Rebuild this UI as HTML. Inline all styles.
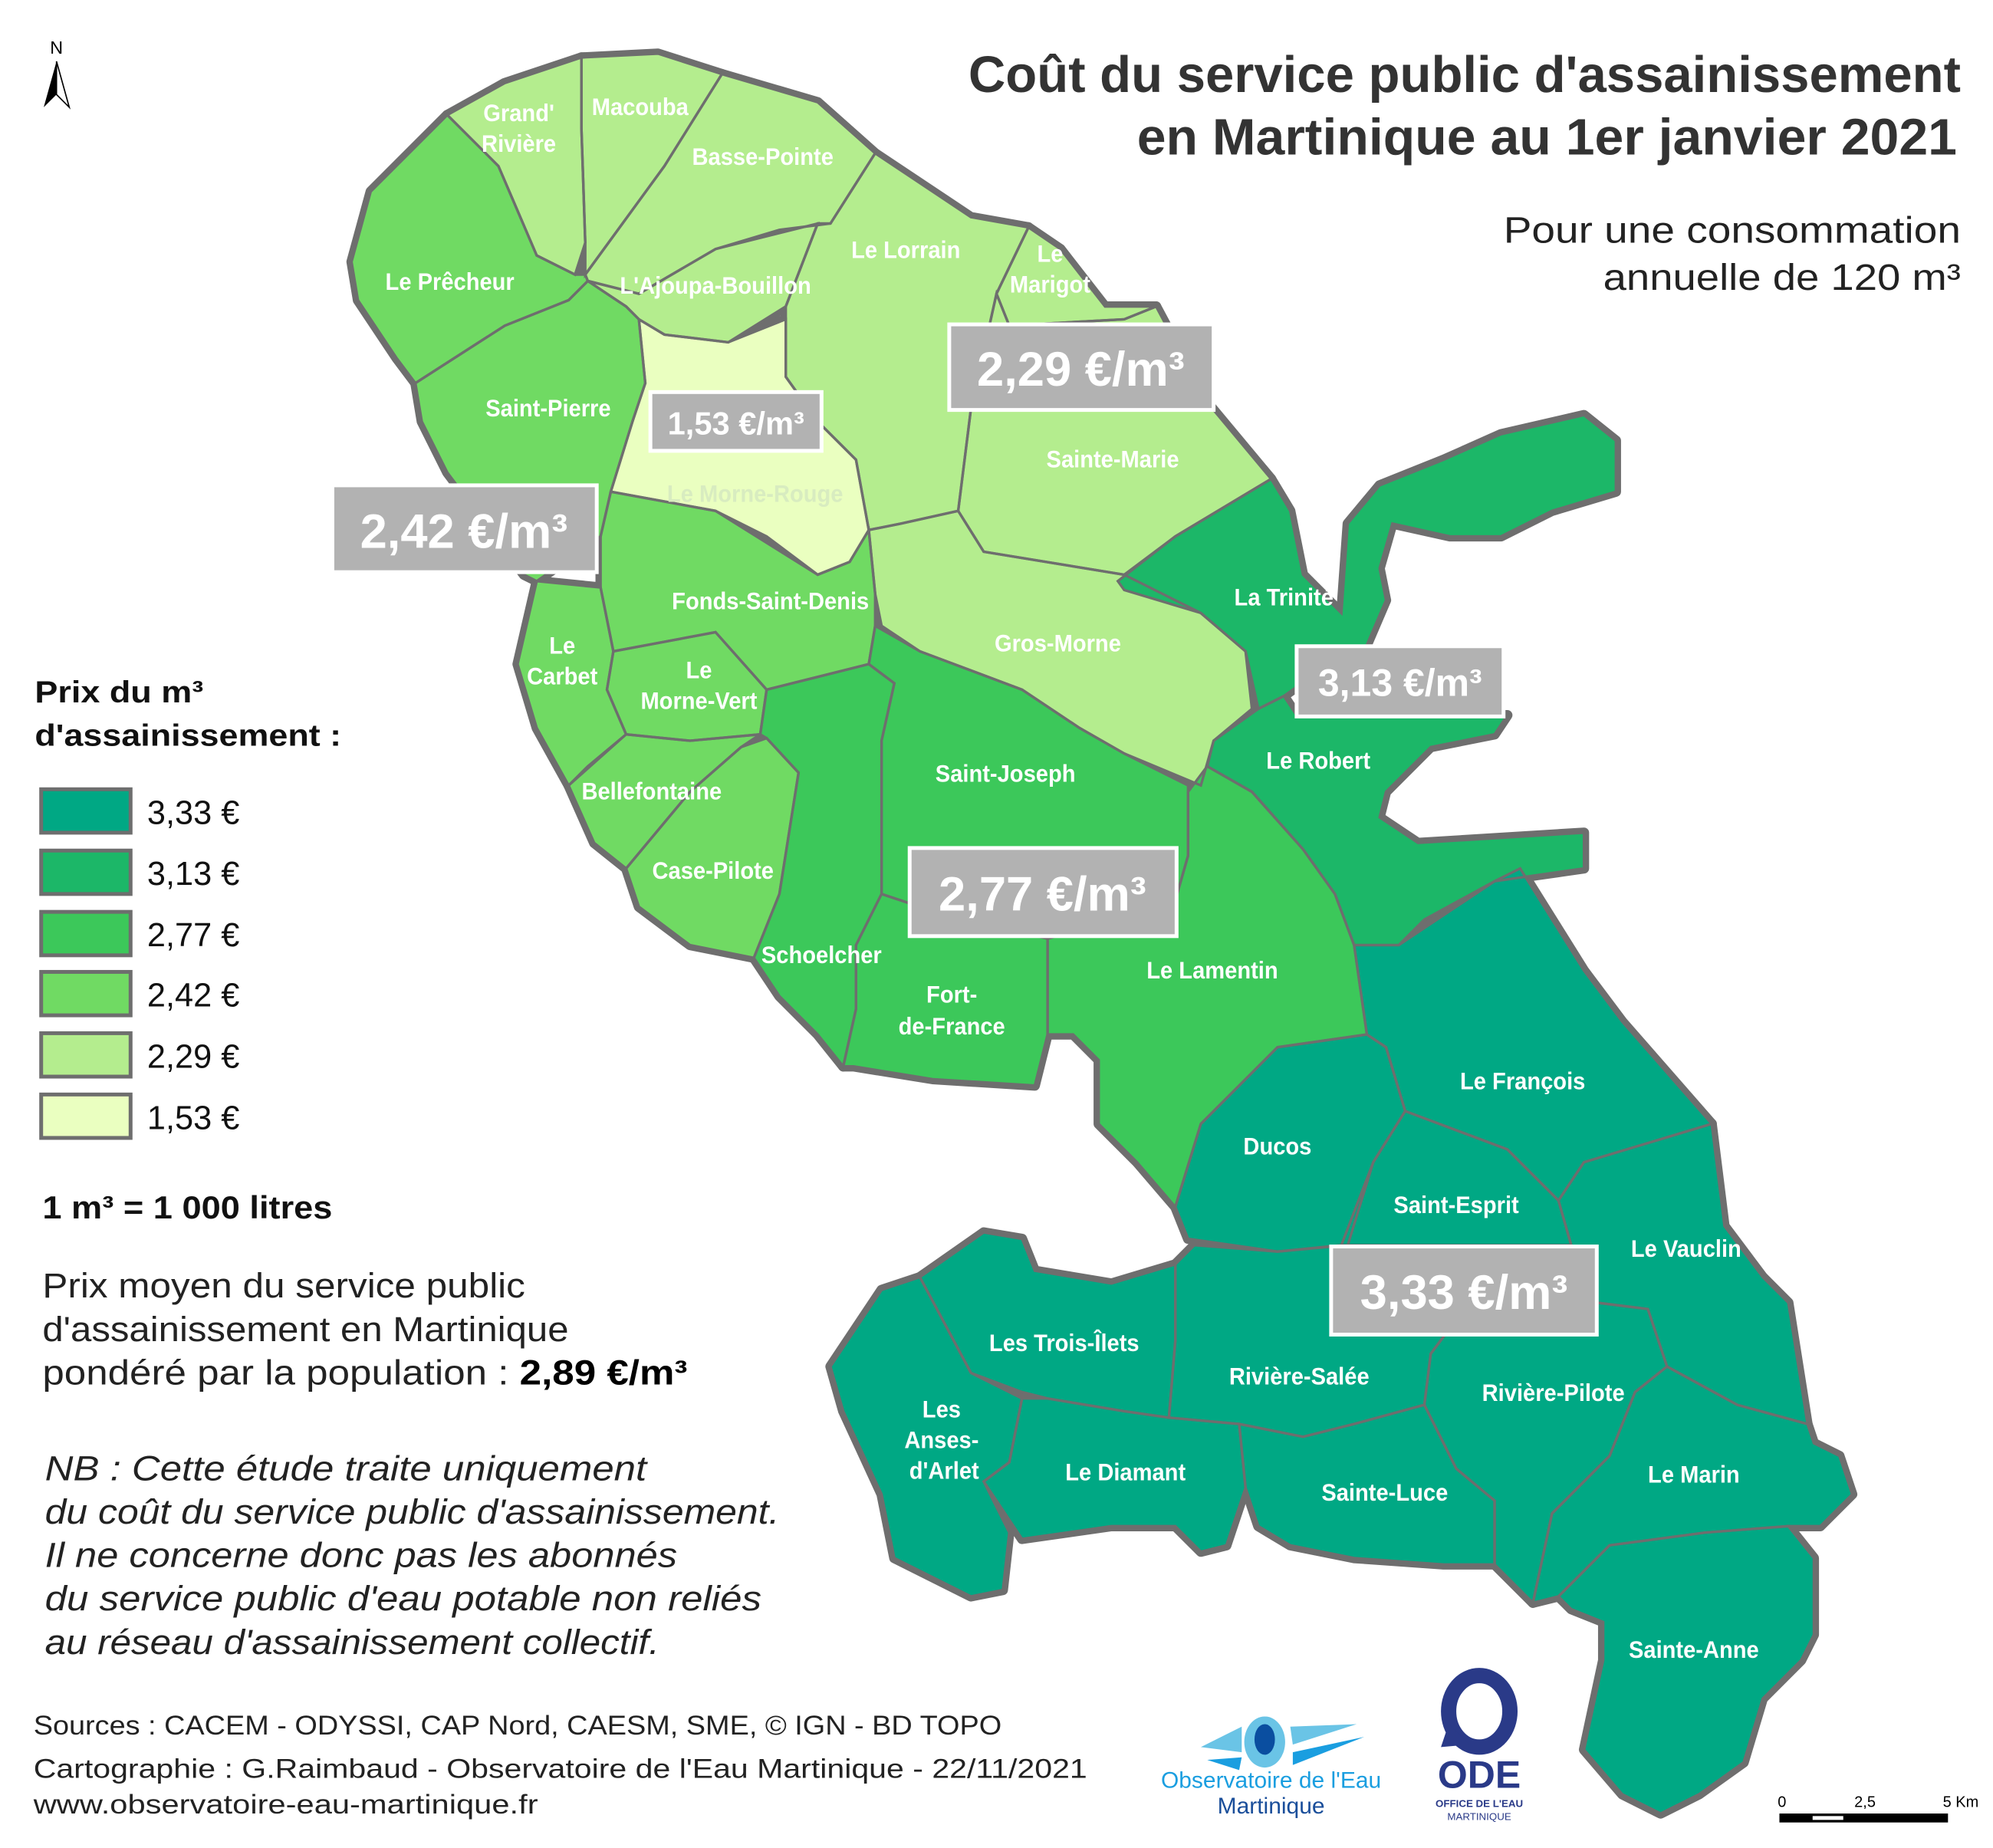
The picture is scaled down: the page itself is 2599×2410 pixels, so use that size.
<!DOCTYPE html>
<html><head><meta charset="utf-8">
<style>
html,body{margin:0;padding:0;background:#fff;}
svg{display:block;}
.c{font-family:"Liberation Sans",sans-serif;font-weight:bold;fill:#fff;font-size:19px;text-anchor:middle;}
.t{font-family:"Liberation Sans",sans-serif;fill:#222;}
</style></head><body>
<svg id="s" width="2599" height="2410" viewBox="0 0 1560 1447" xmlns="http://www.w3.org/2000/svg">
<g id="halo"></g><g id="fill"></g><g id="lines"></g>
<g id="labels">
<text class="c" x="406" y="95">Grand'</text><text class="c" x="406" y="119">Rivière</text>
<text class="c" x="501" y="90">Macouba</text>
<text class="c" x="597" y="129">Basse-Pointe</text>
<text class="c" x="352" y="227">Le Prêcheur</text>
<text class="c" x="560" y="230">L'Ajoupa-Bouillon</text>
<text class="c" x="709" y="202">Le Lorrain</text>
<text class="c" x="822" y="205">Le</text><text class="c" x="822" y="229">Marigot</text>
<text class="c" x="429" y="326">Saint-Pierre</text>
<text class="c" x="591" y="393" style="fill:#d8ecc0">Le Morne-Rouge</text>
<text class="c" x="871" y="366">Sainte-Marie</text>
<text class="c" x="603" y="477">Fonds-Saint-Denis</text>
<text class="c" x="1005" y="474">La Trinité</text>
<text class="c" x="828" y="510">Gros-Morne</text>
<text class="c" x="440" y="512">Le</text><text class="c" x="440" y="536">Carbet</text>
<text class="c" x="547" y="531">Le</text><text class="c" x="547" y="555">Morne-Vert</text>
<text class="c" x="1032" y="602">Le Robert</text>
<text class="c" x="787" y="612">Saint-Joseph</text>
<text class="c" x="510" y="626">Bellefontaine</text>
<text class="c" x="558" y="688">Case-Pilote</text>
<text class="c" x="643" y="754">Schoelcher</text>
<text class="c" x="949" y="766">Le Lamentin</text>
<text class="c" x="745" y="785">Fort-</text><text class="c" x="745" y="810">de-France</text>
<text class="c" x="1192" y="853">Le François</text>
<text class="c" x="1000" y="904">Ducos</text>
<text class="c" x="1140" y="950">Saint-Esprit</text>
<text class="c" x="1320" y="984">Le Vauclin</text>
<text class="c" x="833" y="1058">Les Trois-Îlets</text>
<text class="c" x="1017" y="1084">Rivière-Salée</text>
<text class="c" x="1216" y="1097">Rivière-Pilote</text>
<text class="c" x="737" y="1110">Les</text><text class="c" x="737" y="1134">Anses-</text><text class="c" x="739" y="1158">d'Arlet</text>
<text class="c" x="881" y="1159">Le Diamant</text>
<text class="c" x="1084" y="1175">Sainte-Luce</text>
<text class="c" x="1326" y="1161">Le Marin</text>
<text class="c" x="1326" y="1298">Sainte-Anne</text>
</g>
<g id="boxes" style="font-family:'Liberation Sans',sans-serif;font-weight:bold;fill:#fff;text-anchor:middle">
<rect x="743" y="254" width="207" height="67" fill="#b2b2b2" stroke="#fff" stroke-width="3"/><text x="846" y="302" font-size="38">2,29 €/m³</text>
<rect x="509" y="307" width="134" height="46" fill="#b2b2b2" stroke="#fff" stroke-width="3"/><text x="576" y="340" font-size="25">1,53 €/m³</text>
<rect x="260" y="380" width="207" height="68" fill="#b2b2b2" stroke="#fff" stroke-width="3"/><text x="363" y="429" font-size="38">2,42 €/m³</text>
<rect x="1015" y="506" width="162" height="55" fill="#b2b2b2" stroke="#fff" stroke-width="3"/><text x="1096" y="545" font-size="30">3,13 €/m³</text>
<rect x="712" y="664" width="209" height="69" fill="#b2b2b2" stroke="#fff" stroke-width="3"/><text x="816" y="713" font-size="38">2,77 €/m³</text>
<rect x="1042" y="976" width="208" height="69" fill="#b2b2b2" stroke="#fff" stroke-width="3"/><text x="1146" y="1025" font-size="38">3,33 €/m³</text>
</g>
<g class="t">
<text x="758" y="72" font-size="40" font-weight="bold" fill="#333" textLength="777" lengthAdjust="spacingAndGlyphs">Coût du service public d'assainissement</text>
<text x="890" y="121" font-size="40" font-weight="bold" fill="#333" textLength="642" lengthAdjust="spacingAndGlyphs">en Martinique au 1er janvier 2021</text>
<text x="1177" y="190" font-size="29" textLength="358" lengthAdjust="spacingAndGlyphs">Pour une consommation</text>
<text x="1255" y="227" font-size="29" textLength="280" lengthAdjust="spacingAndGlyphs">annuelle de 120 m³</text>
<text x="27" y="550" font-size="24" font-weight="bold" fill="#111" textLength="132" lengthAdjust="spacingAndGlyphs">Prix du m³</text>
<text x="27" y="584" font-size="24" font-weight="bold" fill="#111" textLength="240" lengthAdjust="spacingAndGlyphs">d'assainissement :</text>
<g stroke="#6e6e6e" stroke-width="3">
<rect x="32" y="618" width="70" height="34" fill="#00a884"/>
<rect x="32" y="666" width="70" height="34" fill="#1cb768"/>
<rect x="32" y="714" width="70" height="34" fill="#3cc85a"/>
<rect x="32" y="761" width="70" height="34" fill="#70da63"/>
<rect x="32" y="809" width="70" height="34" fill="#b4ed8e"/>
<rect x="32" y="857" width="70" height="34" fill="#eaffc0"/>
</g>
<g font-size="26" fill="#111">
<text x="115" y="645">3,33 €</text><text x="115" y="693">3,13 €</text><text x="115" y="741">2,77 €</text>
<text x="115" y="788">2,42 €</text><text x="115" y="836">2,29 €</text><text x="115" y="884">1,53 €</text>
</g>
<text x="33" y="954" font-size="25" font-weight="bold" fill="#111" textLength="227" lengthAdjust="spacingAndGlyphs">1 m³ = 1 000 litres</text>
<text x="33" y="1016" font-size="27" fill="#222" textLength="378" lengthAdjust="spacingAndGlyphs">Prix moyen du service public</text>
<text x="33" y="1050" font-size="27" fill="#222" textLength="412" lengthAdjust="spacingAndGlyphs">d'assainissement en Martinique</text>
<text x="33" y="1084" font-size="27" fill="#222" textLength="505" lengthAdjust="spacingAndGlyphs">pondéré par la population : <tspan font-weight="bold" fill="#000">2,89 €/m³</tspan></text>
<g font-size="27" font-style="italic" fill="#222">
<text x="35" y="1159" textLength="471" lengthAdjust="spacingAndGlyphs">NB : Cette étude traite uniquement</text>
<text x="35" y="1193" textLength="575" lengthAdjust="spacingAndGlyphs">du coût du service public d'assainissement.</text>
<text x="35" y="1227" textLength="495" lengthAdjust="spacingAndGlyphs">Il ne concerne donc pas les abonnés</text>
<text x="35" y="1261" textLength="561" lengthAdjust="spacingAndGlyphs">du service public d'eau potable non reliés</text>
<text x="35" y="1295" textLength="481" lengthAdjust="spacingAndGlyphs">au réseau d'assainissement collectif.</text>
</g>
<g font-size="21" fill="#222">
<text x="26" y="1358" textLength="758" lengthAdjust="spacingAndGlyphs">Sources : CACEM - ODYSSI, CAP Nord, CAESM,  SME, © IGN - BD TOPO</text>
<text x="26" y="1392" textLength="825" lengthAdjust="spacingAndGlyphs">Cartographie : G.Raimbaud - Observatoire de l'Eau Martinique - 22/11/2021</text>
<text x="26" y="1420" textLength="395" lengthAdjust="spacingAndGlyphs">www.observatoire-eau-martinique.fr</text>
</g>
<text x="44" y="42" font-size="14" text-anchor="middle" fill="#000">N</text>
<polygon points="44,48 34,84 44,74 54,84" fill="#000"/>
<polygon points="44,48 44,74 54,84" fill="#fff" stroke="#000" stroke-width="1"/>
<ellipse cx="990" cy="1364" rx="16" ry="20" fill="#6ac4e6"/><ellipse cx="990" cy="1362" rx="8" ry="12" fill="#0a4ea0"/>
<polygon points="940,1368 972,1352 972,1372" fill="#6ac4e6"/><polygon points="1010,1352 1062,1350 1012,1366" fill="#6ac4e6"/>
<polygon points="1012,1372 1068,1360 1012,1382" fill="#1a9ee0"/><polygon points="945,1378 972,1376 970,1386" fill="#1a9ee0"/>
<text x="995" y="1400" font-size="18" text-anchor="middle" fill="#1a9ee0">Observatoire de l'Eau</text>
<text x="995" y="1420" font-size="18" text-anchor="middle" fill="#1a4e9a">Martinique</text>
<ellipse cx="1158" cy="1340" rx="24" ry="28" fill="none" stroke="#2a3a88" stroke-width="12"/>
<polygon points="1134,1350 1128,1368 1150,1366" fill="#2a3a88"/>
<text x="1158" y="1400" font-size="30" font-weight="bold" text-anchor="middle" fill="#2a3a88">ODE</text>
<text x="1158" y="1415" font-size="8" font-weight="bold" text-anchor="middle" fill="#2a3a88">OFFICE DE L'EAU</text>
<text x="1158" y="1425" font-size="8" text-anchor="middle" fill="#2a3a88">MARTINIQUE</text>
<text x="1395" y="1415" font-size="12" text-anchor="middle" fill="#000">0</text>
<text x="1460" y="1415" font-size="12" text-anchor="middle" fill="#000">2,5</text>
<text x="1535" y="1415" font-size="12" text-anchor="middle" fill="#000">5 Km</text>
<rect x="1393" y="1420" width="132" height="7" fill="#000"/><rect x="1419" y="1422" width="24" height="3" fill="#fff"/>
</g>
</svg>
<script>
var C={a:"#00a884",b:"#1cb768",c:"#3cc85a",d:"#70da63",e:"#b4ed8e",f:"#eaffc0"};
var P=[
["e","350,90 395,65 455,45 455,100 458,190 450,215 420,200 390,130"],
["e","455,45 515,42 565,58 520,130 458,215 458,190 455,100"],
["e","565,58 640,80 685,120 650,175 610,180 560,195 500,230 460,220 458,215 520,130"],
["e","460,220 500,230 560,195 640,175 615,240 570,268 520,262 500,250 490,240"],
["e","685,120 760,170 805,178 780,230 760,320 750,400 705,410 680,415 670,360 640,330 615,295 615,240 640,175 650,175"],
["e","805,178 830,195 865,240 905,240 880,250 790,255 780,230"],
["e","790,255 880,250 905,240 945,315 995,375 920,420 880,450 770,432 750,400 760,320 780,230"],
["e","680,415 705,410 750,400 770,432 880,450 940,480 975,510 980,555 950,580 940,615 880,590 845,570 800,540 720,510 690,490 685,465"],
["d","350,90 390,130 420,200 450,215 458,215 460,220 445,235 395,255 325,300 310,280 280,235 275,205 290,150"],
["d","325,300 395,255 445,235 460,220 490,240 500,250 505,300 495,330 478,385 470,420 420,455 410,450 380,410 350,370 330,330"],
["f","500,250 520,262 570,268 615,250 615,295 640,330 670,360 680,415 665,440 640,450 600,420 560,400 478,385 495,330 505,300"],
["d","470,420 478,385 560,400 640,450 665,440 680,415 685,465 685,490 680,520 640,530 600,540 560,495 480,510 470,460"],
["d","420,455 470,460 480,510 475,540 490,575 460,600 445,615 420,570 405,520"],
["d","480,510 560,495 600,540 595,575 540,580 490,575 475,540"],
["d","445,615 490,575 540,580 595,575 580,585 540,620 490,680 465,660"],
["d","490,680 540,620 580,585 600,578 625,605 610,700 590,750 540,740 500,710"],
["c","600,540 640,530 680,520 700,535 690,580 690,640 690,700 670,740 670,790 660,835 640,810 610,780 590,750 610,700 625,605 600,578 595,575"],
["c","670,740 690,700 720,710 820,735 820,810 810,850 730,845 668,835 660,835 670,790"],
["c","685,490 720,510 800,540 845,570 880,590 930,615 930,670 920,705 820,735 720,710 690,700 690,580 700,535 680,520"],
["c","820,735 920,705 930,670 930,620 945,600 980,620 1020,665 1045,700 1060,740 1070,810 1000,820 940,880 920,945 890,910 860,880 860,830 840,810 820,810"],
["b","875,455 920,420 995,375 1010,400 1020,450 1050,480 1055,410 1080,380 1130,360 1175,340 1240,325 1265,345 1265,385 1215,400 1175,420 1135,420 1090,410 1080,445 1085,470 1070,505 1040,520 1005,545 985,555 975,510 940,480 880,462"],
["b","985,555 1005,545 1015,560 1180,560 1170,575 1120,585 1085,620 1080,640 1110,660 1240,652 1240,680 1170,690 1115,720 1095,740 1060,740 1045,700 1020,665 980,620 945,600 950,580"],
["a","1060,740 1095,740 1170,690 1190,680 1240,760 1270,800 1340,880 1240,910 1220,940 1180,900 1100,870 1085,820 1070,810"],
["a","920,945 940,880 1000,820 1070,810 1085,820 1100,870 1075,910 1055,975 1000,980 930,970"],
["a","1100,870 1180,900 1220,940 1230,975 1050,975 1075,910"],
["a","1220,940 1240,910 1340,880 1350,960 1380,1000 1400,1020 1415,1115 1360,1100 1305,1070 1290,1025 1250,1020 1230,975"],
["a","920,990 935,975 1000,980 1050,975 1080,1035 1135,1040 1120,1060 1115,1100 1060,1115 1020,1125 970,1115 915,1110 920,1050"],
["a","720,1000 770,965 800,970 810,995 870,1005 920,990 920,1050 915,1110 880,1105 820,1095 800,1090 760,1075"],
["a","650,1070 690,1010 720,1000 760,1075 800,1095 790,1145 770,1160 790,1200 785,1245 760,1250 700,1220 690,1170 660,1105"],
["a","800,1095 820,1095 880,1105 915,1110 970,1115 975,1165 960,1210 940,1215 920,1195 870,1195 800,1205 770,1160 790,1145"],
["a","970,1115 1020,1125 1060,1115 1115,1100 1140,1150 1170,1175 1170,1225 1130,1225 1060,1220 1010,1210 985,1195 975,1165"],
["a","1115,1100 1120,1060 1135,1040 1250,1020 1290,1025 1305,1070 1280,1090 1260,1140 1230,1170 1215,1185 1200,1255 1170,1225 1170,1175 1140,1150"],
["a","1305,1070 1360,1100 1415,1115 1420,1130 1440,1140 1450,1170 1425,1195 1400,1195 1335,1200 1260,1210 1220,1250 1200,1255 1215,1185 1230,1170 1260,1140 1280,1090"],
["a","1260,1210 1335,1200 1400,1195 1420,1220 1420,1280 1410,1300 1380,1330 1365,1380 1330,1405 1300,1420 1270,1405 1240,1370 1255,1300 1255,1270 1230,1260 1220,1250"]
];
var h="",f="",l="";
P.forEach(function(p){
h+='<polygon points="'+p[1]+'" fill="#6e6e6e" stroke="#6e6e6e" stroke-width="8" stroke-linejoin="round"/>';
f+='<polygon points="'+p[1]+'" fill="'+C[p[0]]+'"/>';
l+='<polygon points="'+p[1]+'" fill="none" stroke="#6e6e6e" stroke-width="2"/>';
});
document.getElementById("halo").innerHTML=h;
document.getElementById("fill").innerHTML=f;
document.getElementById("lines").innerHTML=l;
var lbl=document.querySelectorAll("#labels text");
for(var i=0;i<lbl.length;i++){var t=lbl[i];var x=+t.getAttribute("x");t.setAttribute("transform","translate("+x+",0) scale(0.92,1) translate("+(-x)+",0)");}
</script>
</body></html>
